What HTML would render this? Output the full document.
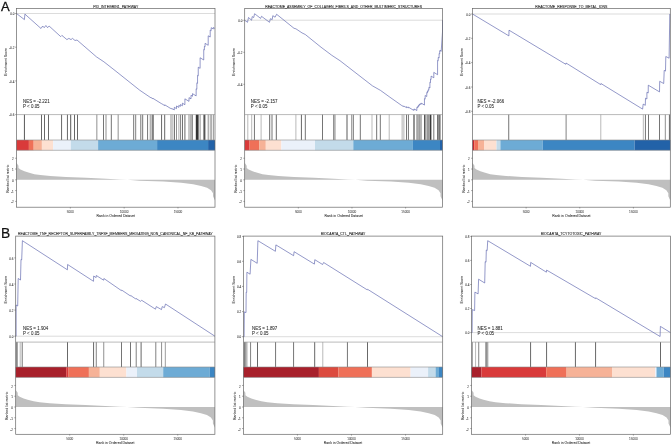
<!DOCTYPE html><html><head><meta charset="utf-8"><style>html,body{margin:0;padding:0;background:#fff;}svg{display:block;will-change:transform;} text{stroke:#333;stroke-width:0.06px;}</style></head><body>
<svg width="672" height="445" viewBox="0 0 672 445" font-family='"Liberation Sans", sans-serif'>
<rect width="672" height="445" fill="#fff"/>
<text x="115.75" y="7.5" font-size="3.52" text-anchor="middle" fill="#222" style="stroke:#222;stroke-width:0.07px">PID_INTEGRIN1_PATHWAY</text>
<rect x="16.5" y="140" width="12.4" height="10.3" fill="#d93a3a"/>
<rect x="28.9" y="140" width="4.8" height="10.3" fill="#ef7058"/>
<rect x="33.7" y="140" width="8.2" height="10.3" fill="#f6b297"/>
<rect x="41.9" y="140" width="11.2" height="10.3" fill="#fde0d1"/>
<rect x="53.1" y="140" width="17.7" height="10.3" fill="#ebf1fa"/>
<rect x="70.8" y="140" width="27.3" height="10.3" fill="#c3dbea"/>
<rect x="98.1" y="140" width="59" height="10.3" fill="#6dabd5"/>
<rect x="157.1" y="140" width="51" height="10.3" fill="#3c86c3"/>
<rect x="208.1" y="140" width="6.9" height="10.3" fill="#2262a8"/>
<rect x="23.92" y="114.6" width="0.95" height="25.4" fill="#515151"/>
<rect x="41.02" y="114.6" width="0.95" height="25.4" fill="#606060"/>
<rect x="44.02" y="114.6" width="0.95" height="25.4" fill="#606060"/>
<rect x="48.02" y="114.6" width="0.95" height="25.4" fill="#606060"/>
<rect x="61.12" y="114.6" width="0.95" height="25.4" fill="#606060"/>
<rect x="66.93" y="114.6" width="0.95" height="25.4" fill="#606060"/>
<rect x="70.23" y="114.6" width="0.95" height="25.4" fill="#515151"/>
<rect x="74.03" y="114.6" width="0.95" height="25.4" fill="#606060"/>
<rect x="77.03" y="114.6" width="0.95" height="25.4" fill="#606060"/>
<rect x="96.15" y="114.6" width="1.3" height="25.4" fill="#aaa"/>
<rect x="103.03" y="114.6" width="0.95" height="25.4" fill="#6e6e6e"/>
<rect x="105.53" y="114.6" width="0.95" height="25.4" fill="#8b8b8b"/>
<rect x="110.83" y="114.6" width="0.95" height="25.4" fill="#6e6e6e"/>
<rect x="117.55" y="114.6" width="1.3" height="25.4" fill="#aaa"/>
<rect x="133.22" y="114.6" width="0.95" height="25.4" fill="#6e6e6e"/>
<rect x="135.22" y="114.6" width="0.95" height="25.4" fill="#7c7c7c"/>
<rect x="140.33" y="114.6" width="0.95" height="25.4" fill="#6e6e6e"/>
<rect x="142.22" y="114.6" width="0.95" height="25.4" fill="#6e6e6e"/>
<rect x="147.12" y="114.6" width="0.95" height="25.4" fill="#6e6e6e"/>
<rect x="149.62" y="114.6" width="0.95" height="25.4" fill="#b6b6b6"/>
<rect x="152.43" y="114.6" width="0.95" height="25.4" fill="#6e6e6e"/>
<rect x="152.53" y="114.6" width="0.95" height="25.4" fill="#515151"/>
<rect x="150.53" y="114.6" width="0.95" height="25.4" fill="#8b8b8b"/>
<rect x="161.12" y="114.6" width="0.95" height="25.4" fill="#606060"/>
<rect x="164.22" y="114.6" width="0.95" height="25.4" fill="#606060"/>
<rect x="170" y="114.6" width="3" height="25.4" fill="#c8c8c8"/>
<rect x="173.83" y="114.6" width="0.95" height="25.4" fill="#515151"/>
<rect x="176.03" y="114.6" width="0.95" height="25.4" fill="#8b8b8b"/>
<rect x="178.33" y="114.6" width="0.95" height="25.4" fill="#b6b6b6"/>
<rect x="179.93" y="114.6" width="0.95" height="25.4" fill="#7c7c7c"/>
<rect x="181.93" y="114.6" width="0.95" height="25.4" fill="#606060"/>
<rect x="184.43" y="114.6" width="0.95" height="25.4" fill="#606060"/>
<rect x="188.53" y="114.6" width="0.95" height="25.4" fill="#8b8b8b"/>
<rect x="190.53" y="114.6" width="0.95" height="25.4" fill="#606060"/>
<rect x="192.03" y="114.6" width="0.95" height="25.4" fill="#8b8b8b"/>
<rect x="195.8" y="114.6" width="2.8" height="25.4" fill="#333"/>
<rect x="199.62" y="114.6" width="0.95" height="25.4" fill="#8b8b8b"/>
<rect x="203.4" y="114.6" width="2" height="25.4" fill="#555"/>
<rect x="207.72" y="114.6" width="0.95" height="25.4" fill="#8b8b8b"/>
<rect x="209.72" y="114.6" width="0.95" height="25.4" fill="#b6b6b6"/>
<rect x="210.72" y="114.6" width="0.95" height="25.4" fill="#8b8b8b"/>
<rect x="212.83" y="114.6" width="0.95" height="25.4" fill="#8b8b8b"/>
<line x1="16.5" y1="13.5" x2="215" y2="13.5" stroke="#c4c4c4" stroke-width="0.6"/>
<polyline points="16.5,13.5 24.4,19.6 24.9,14.1 41,28.5 42.7,26 44.2,27.7 45.9,25.5 47.6,27.7 49.1,26 60.7,36.6 61.9,35.4 66.9,39.6 68.9,38.4 71,39.6 72.5,38.4 75,40.5 77,40 96.5,56.9 103.9,61.8 115,70.5 139.7,90.2 150,97.2 150.11,97.24 151,97.8 151.01,97.6 152.9,98.78 152.91,98.37 153,98.43 153.01,98.41 161.6,103.74 161.61,103.67 164.7,105.59 164.71,104.8 170.38,108.32 170.38,108.24 171.12,108.7 171.13,108.46 171.88,108.93 171.88,108.69 172.62,109.15 172.63,108.91 174.3,109.95 174.31,107.29 176.5,108.65 176.51,105.98 178.8,107.41 178.81,105.38 180.4,106.37 180.41,104.54 182.4,105.78 182.41,103.16 184.9,104.71 184.91,98.83 189,101.37 189.01,97.63 191,98.87 191.01,95.33 192.5,96.26 192.51,93.65 196.15,95.91 196.16,88.82 196.85,89.25 196.86,82.84 197.55,83.27 197.56,75.41 198.25,75.85 198.26,67.19 200.1,68.33 200.11,57.75 203.73,60 203.74,49.43 204.4,49.84 204.41,46.38 205.07,46.79 205.08,43.33 208.2,45.27 208.21,35.8 210.2,37.04 210.21,30.03 211.2,30.65 211.21,27.68 213.3,28.98 213.31,27.48 214.8,28.4" fill="none" stroke="#525aa8" stroke-width="0.62" stroke-linejoin="round"/>
<path d="M0,0 L0,-2.6 L0,-2.1 L0,-1.9 L0,-1.58 L0.01,-1.32 L0.01,-1.1 L0.02,-0.95 L0.04,-0.79 L0.06,-0.67 L0.09,-0.52 L0.12,-0.43 L0.17,-0.35 L0.25,-0.26 L0.35,-0.18 L0.45,-0.09 L0.52,-0.02 L0.56,0 L0.62,0.09 L0.74,0.17 L0.83,0.28 L0.89,0.43 L0.93,0.59 L0.96,0.76 L0.98,1 L0.99,1.27 L0.99,1.55 L1,1.95 L1,2.3 L1,0 Z" transform="translate(16.5,179.7) scale(198.5,10.65)" fill="#bfbfbf"/>
<rect x="16.5" y="8.4" width="198.5" height="198.8" fill="none" stroke="#666" stroke-width="0.7"/>
<line x1="16.5" y1="114.6" x2="215" y2="114.6" stroke="#8a8a8a" stroke-width="0.6"/>
<line x1="16.5" y1="140" x2="215" y2="140" stroke="#8a8a8a" stroke-width="0.6"/>
<line x1="16.5" y1="150.3" x2="215" y2="150.3" stroke="#8a8a8a" stroke-width="0.6"/>
<line x1="15.1" y1="13.5" x2="16.5" y2="13.5" stroke="#555" stroke-width="0.5"/>
<text x="14.3" y="15.25" font-size="3.0" text-anchor="end" fill="#444">0.0</text>
<line x1="15.1" y1="47.2" x2="16.5" y2="47.2" stroke="#555" stroke-width="0.5"/>
<text x="14.3" y="48.95" font-size="3.0" text-anchor="end" fill="#444">-0.2</text>
<line x1="15.1" y1="80.9" x2="16.5" y2="80.9" stroke="#555" stroke-width="0.5"/>
<text x="14.3" y="82.65" font-size="3.0" text-anchor="end" fill="#444">-0.4</text>
<line x1="15.1" y1="114.6" x2="16.5" y2="114.6" stroke="#555" stroke-width="0.5"/>
<text x="14.3" y="116.35" font-size="3.0" text-anchor="end" fill="#444">-0.6</text>
<text transform="translate(6.6,62) rotate(-90)" font-size="3.5" text-anchor="middle" fill="#333">Enrichment Score</text>
<line x1="15.1" y1="158.24" x2="16.5" y2="158.24" stroke="#555" stroke-width="0.5"/>
<text x="13.7" y="160.34" font-size="3.0" text-anchor="end" fill="#444">2</text>
<line x1="15.1" y1="169.02" x2="16.5" y2="169.02" stroke="#555" stroke-width="0.5"/>
<text x="13.7" y="171.12" font-size="3.0" text-anchor="end" fill="#444">1</text>
<line x1="15.1" y1="179.8" x2="16.5" y2="179.8" stroke="#555" stroke-width="0.5"/>
<text x="13.7" y="181.9" font-size="3.0" text-anchor="end" fill="#444">0</text>
<line x1="15.1" y1="190.58" x2="16.5" y2="190.58" stroke="#555" stroke-width="0.5"/>
<text x="13.7" y="192.68" font-size="3.0" text-anchor="end" fill="#444">-1</text>
<line x1="15.1" y1="201.36" x2="16.5" y2="201.36" stroke="#555" stroke-width="0.5"/>
<text x="13.7" y="203.46" font-size="3.0" text-anchor="end" fill="#444">-2</text>
<text transform="translate(8.6,178.75) rotate(-90)" font-size="3.55" text-anchor="middle" fill="#333">Ranked list metric</text>
<line x1="70.32" y1="207.2" x2="70.32" y2="208.5" stroke="#555" stroke-width="0.5"/>
<text x="70.32" y="212.8" font-size="3.1" text-anchor="middle" fill="#555" style="stroke-width:0.04px">5000</text>
<line x1="124.15" y1="207.2" x2="124.15" y2="208.5" stroke="#555" stroke-width="0.5"/>
<text x="124.15" y="212.8" font-size="3.1" text-anchor="middle" fill="#555" style="stroke-width:0.04px">10000</text>
<line x1="177.97" y1="207.2" x2="177.97" y2="208.5" stroke="#555" stroke-width="0.5"/>
<text x="177.97" y="212.8" font-size="3.1" text-anchor="middle" fill="#555" style="stroke-width:0.04px">15000</text>
<text x="115.75" y="216.6" font-size="3.48" text-anchor="middle" fill="#333">Rank in Ordered Dataset</text>
<text x="23" y="102.7" font-size="4.45" fill="#1a1a1a" style="stroke-width:0.05px">NES = -2.221</text>
<text x="23" y="107.7" font-size="4.45" fill="#1a1a1a" style="stroke-width:0.05px">P &lt; 0.05</text>
<text x="343.6" y="7.5" font-size="3.52" text-anchor="middle" fill="#222" style="stroke:#222;stroke-width:0.07px">REACTOME_ASSEMBLY_OF_COLLAGEN_FIBRILS_AND_OTHER_MULTIMERIC_STRUCTURES</text>
<rect x="244.7" y="140" width="4.9" height="10.3" fill="#d93a3a"/>
<rect x="249.6" y="140" width="9.5" height="10.3" fill="#ef7058"/>
<rect x="259.1" y="140" width="6.7" height="10.3" fill="#f6b297"/>
<rect x="265.8" y="140" width="15.6" height="10.3" fill="#fde0d1"/>
<rect x="281.4" y="140" width="33.6" height="10.3" fill="#ebf1fa"/>
<rect x="315" y="140" width="38.3" height="10.3" fill="#c3dbea"/>
<rect x="353.3" y="140" width="59.6" height="10.3" fill="#6dabd5"/>
<rect x="412.9" y="140" width="27.1" height="10.3" fill="#3c86c3"/>
<rect x="440" y="140" width="2.5" height="10.3" fill="#2262a8"/>
<rect x="247.33" y="114.6" width="0.95" height="25.4" fill="#b6b6b6"/>
<rect x="251.22" y="114.6" width="0.95" height="25.4" fill="#b6b6b6"/>
<rect x="253.93" y="114.6" width="0.95" height="25.4" fill="#6e6e6e"/>
<rect x="260.62" y="114.6" width="0.95" height="25.4" fill="#b6b6b6"/>
<rect x="269.22" y="114.6" width="0.95" height="25.4" fill="#606060"/>
<rect x="271.52" y="114.6" width="0.95" height="25.4" fill="#6e6e6e"/>
<rect x="275.82" y="114.6" width="0.95" height="25.4" fill="#606060"/>
<rect x="295.42" y="114.6" width="0.95" height="25.4" fill="#b6b6b6"/>
<rect x="300.92" y="114.6" width="0.95" height="25.4" fill="#606060"/>
<rect x="304.82" y="114.6" width="0.95" height="25.4" fill="#6e6e6e"/>
<rect x="322.02" y="114.6" width="0.95" height="25.4" fill="#6e6e6e"/>
<rect x="333.32" y="114.6" width="0.95" height="25.4" fill="#606060"/>
<rect x="334.52" y="114.6" width="0.95" height="25.4" fill="#8b8b8b"/>
<rect x="346.4" y="114.6" width="1.2" height="25.4" fill="#777"/>
<rect x="351.22" y="114.6" width="0.95" height="25.4" fill="#8b8b8b"/>
<rect x="352.82" y="114.6" width="0.95" height="25.4" fill="#6e6e6e"/>
<rect x="359.82" y="114.6" width="0.95" height="25.4" fill="#6e6e6e"/>
<rect x="371.52" y="114.6" width="0.95" height="25.4" fill="#b6b6b6"/>
<rect x="376.25" y="114.6" width="0.9" height="25.4" fill="#666"/>
<rect x="379.82" y="114.6" width="0.95" height="25.4" fill="#6e6e6e"/>
<rect x="388.72" y="114.6" width="0.95" height="25.4" fill="#b6b6b6"/>
<rect x="401.4" y="114.6" width="3.2" height="25.4" fill="#cfcfcf"/>
<rect x="406.02" y="114.6" width="0.95" height="25.4" fill="#6e6e6e"/>
<rect x="407.92" y="114.6" width="0.95" height="25.4" fill="#6e6e6e"/>
<rect x="413.3" y="114.6" width="1.4" height="25.4" fill="#666"/>
<rect x="416.45" y="114.6" width="5.5" height="25.4" fill="#b5b5b5"/>
<rect x="416.52" y="114.6" width="0.95" height="25.4" fill="#999999"/>
<rect x="418.82" y="114.6" width="0.95" height="25.4" fill="#999999"/>
<rect x="424.1" y="114.6" width="1.4" height="25.4" fill="#444"/>
<rect x="426.4" y="114.6" width="2.8" height="25.4" fill="#999"/>
<rect x="429.6" y="114.6" width="1.8" height="25.4" fill="#3a3a3a"/>
<rect x="433.3" y="114.6" width="1" height="25.4" fill="#777"/>
<rect x="437.25" y="114.6" width="1.3" height="25.4" fill="#444"/>
<rect x="438.8" y="114.6" width="1.8" height="25.4" fill="#777"/>
<line x1="244.7" y1="20.2" x2="442.5" y2="20.2" stroke="#c4c4c4" stroke-width="0.6"/>
<polyline points="244.7,20.2 247.5,22.3 248.5,17.5 251.6,20.2 252.2,16.6 253.7,17.5 254.6,13.7 260.6,18.4 261.5,16.3 269.5,22.3 270.4,18.7 272.2,19.6 272.8,15.7 275.1,17.2 276.6,14.25 294,28.3 295.9,28.8 302,32.9 305.3,34.5 321,47.2 331.8,55.3 340,60.7 372.4,85.8 380.5,90.4 389.9,97.2 401.81,105.59 402.6,106.08 402.61,105.9 403.4,106.4 403.41,106.07 404.2,106.57 404.21,106.24 406.5,107.66 406.51,106.72 408.4,107.9 408.41,107.12 413.65,110.37 413.66,109.43 414.35,109.87 414.36,108.99 416.84,110.54 416.85,107.44 417,107.53 417.01,107.27 417.63,107.66 417.64,106.46 418.41,106.94 418.42,105.44 419.2,105.92 419.21,104.42 419.3,104.48 419.31,104.29 419.99,104.71 420,103.78 420.77,104.26 420.78,103.53 421.56,104.02 421.57,103.28 424.45,105.07 424.46,98.68 425.15,99.11 425.16,95.51 426.75,96.5 426.76,92.45 427.45,92.88 427.46,91.11 428.15,91.54 428.16,89.77 428.85,90.2 428.86,87.35 429.9,88 429.91,82.1 430.5,82.47 430.51,79.1 431.1,79.47 431.11,76.1 433.8,77.77 433.81,72.37 437.57,74.71 437.58,60.4 438.23,60.8 438.24,57.46 439.1,58.01 439.11,53.51 439.7,53.88 439.71,50.8 440.3,51.18 440.31,50.33 441.2,51.3 442.5,32 442.5,20.2" fill="none" stroke="#525aa8" stroke-width="0.62" stroke-linejoin="round"/>
<path d="M0,0 L0,-2.6 L0,-2.1 L0,-1.9 L0,-1.58 L0.01,-1.32 L0.01,-1.1 L0.02,-0.95 L0.04,-0.79 L0.06,-0.67 L0.09,-0.52 L0.12,-0.43 L0.17,-0.35 L0.25,-0.26 L0.35,-0.18 L0.45,-0.09 L0.52,-0.02 L0.56,0 L0.62,0.09 L0.74,0.17 L0.83,0.28 L0.89,0.43 L0.93,0.59 L0.96,0.76 L0.98,1 L0.99,1.27 L0.99,1.55 L1,1.95 L1,2.3 L1,0 Z" transform="translate(244.7,179.7) scale(197.8,10.65)" fill="#bfbfbf"/>
<rect x="244.7" y="8.4" width="197.8" height="198.8" fill="none" stroke="#666" stroke-width="0.7"/>
<line x1="244.7" y1="114.6" x2="442.5" y2="114.6" stroke="#8a8a8a" stroke-width="0.6"/>
<line x1="244.7" y1="140" x2="442.5" y2="140" stroke="#8a8a8a" stroke-width="0.6"/>
<line x1="244.7" y1="150.3" x2="442.5" y2="150.3" stroke="#8a8a8a" stroke-width="0.6"/>
<line x1="243.3" y1="20.3" x2="244.7" y2="20.3" stroke="#555" stroke-width="0.5"/>
<text x="242.5" y="22.05" font-size="3.0" text-anchor="end" fill="#444">0.0</text>
<line x1="243.3" y1="52.3" x2="244.7" y2="52.3" stroke="#555" stroke-width="0.5"/>
<text x="242.5" y="54.05" font-size="3.0" text-anchor="end" fill="#444">-0.2</text>
<line x1="243.3" y1="84.3" x2="244.7" y2="84.3" stroke="#555" stroke-width="0.5"/>
<text x="242.5" y="86.05" font-size="3.0" text-anchor="end" fill="#444">-0.4</text>
<text transform="translate(234.8,62) rotate(-90)" font-size="3.5" text-anchor="middle" fill="#333">Enrichment Score</text>
<line x1="243.3" y1="158.24" x2="244.7" y2="158.24" stroke="#555" stroke-width="0.5"/>
<text x="241.9" y="160.34" font-size="3.0" text-anchor="end" fill="#444">2</text>
<line x1="243.3" y1="169.02" x2="244.7" y2="169.02" stroke="#555" stroke-width="0.5"/>
<text x="241.9" y="171.12" font-size="3.0" text-anchor="end" fill="#444">1</text>
<line x1="243.3" y1="179.8" x2="244.7" y2="179.8" stroke="#555" stroke-width="0.5"/>
<text x="241.9" y="181.9" font-size="3.0" text-anchor="end" fill="#444">0</text>
<line x1="243.3" y1="190.58" x2="244.7" y2="190.58" stroke="#555" stroke-width="0.5"/>
<text x="241.9" y="192.68" font-size="3.0" text-anchor="end" fill="#444">-1</text>
<line x1="243.3" y1="201.36" x2="244.7" y2="201.36" stroke="#555" stroke-width="0.5"/>
<text x="241.9" y="203.46" font-size="3.0" text-anchor="end" fill="#444">-2</text>
<text transform="translate(236.8,178.75) rotate(-90)" font-size="3.55" text-anchor="middle" fill="#333">Ranked list metric</text>
<line x1="298.33" y1="207.2" x2="298.33" y2="208.5" stroke="#555" stroke-width="0.5"/>
<text x="298.33" y="212.8" font-size="3.1" text-anchor="middle" fill="#555" style="stroke-width:0.04px">5000</text>
<line x1="351.97" y1="207.2" x2="351.97" y2="208.5" stroke="#555" stroke-width="0.5"/>
<text x="351.97" y="212.8" font-size="3.1" text-anchor="middle" fill="#555" style="stroke-width:0.04px">10000</text>
<line x1="405.6" y1="207.2" x2="405.6" y2="208.5" stroke="#555" stroke-width="0.5"/>
<text x="405.6" y="212.8" font-size="3.1" text-anchor="middle" fill="#555" style="stroke-width:0.04px">15000</text>
<text x="343.6" y="216.6" font-size="3.48" text-anchor="middle" fill="#333">Rank in Ordered Dataset</text>
<text x="250.8" y="102.7" font-size="4.45" fill="#1a1a1a" style="stroke-width:0.05px">NES = -2.157</text>
<text x="250.8" y="107.7" font-size="4.45" fill="#1a1a1a" style="stroke-width:0.05px">P &lt; 0.05</text>
<text x="571.4" y="7.5" font-size="3.52" text-anchor="middle" fill="#222" style="stroke:#222;stroke-width:0.07px">REACTOME_RESPONSE_TO_METAL_IONS</text>
<rect x="472.5" y="140" width="1.7" height="10.3" fill="#c8272e"/>
<rect x="474.2" y="140" width="3.8" height="10.3" fill="#ef7058"/>
<rect x="478" y="140" width="6" height="10.3" fill="#f6b297"/>
<rect x="484" y="140" width="12.5" height="10.3" fill="#fde0d1"/>
<rect x="496.5" y="140" width="3.9" height="10.3" fill="#c3dbea"/>
<rect x="500.4" y="140" width="42.3" height="10.3" fill="#6dabd5"/>
<rect x="542.7" y="140" width="91.8" height="10.3" fill="#3c86c3"/>
<rect x="634.5" y="140" width="35.8" height="10.3" fill="#2262a8"/>
<rect x="508.27" y="114.6" width="0.95" height="25.4" fill="#6e6e6e"/>
<rect x="565.62" y="114.6" width="0.95" height="25.4" fill="#7c7c7c"/>
<rect x="600.32" y="114.6" width="0.95" height="25.4" fill="#b6b6b6"/>
<rect x="642.82" y="114.6" width="0.95" height="25.4" fill="#b6b6b6"/>
<rect x="644.92" y="114.6" width="0.95" height="25.4" fill="#6e6e6e"/>
<rect x="648.02" y="114.6" width="0.95" height="25.4" fill="#6e6e6e"/>
<rect x="659.02" y="114.6" width="0.95" height="25.4" fill="#6e6e6e"/>
<rect x="664.82" y="114.6" width="0.95" height="25.4" fill="#8b8b8b"/>
<rect x="668.92" y="114.6" width="0.95" height="25.4" fill="#606060"/>
<line x1="472.5" y1="14" x2="670.3" y2="14" stroke="#c4c4c4" stroke-width="0.6"/>
<polyline points="472.5,14 508.9,35.9 509,30.2 565.8,64.3 566,63 600.7,84.6 600.9,83.5 642.6,109.1 643.2,104.1 645.3,105.3 645.5,98.2 646.9,99 646.9,92.3 648.2,93 648.3,85.2 659.5,91.9 659.7,81.3 663.7,83.5 664,76 664.2,70.4 665.5,71.1 665.8,56.5 669.1,58.2 669.8,14" fill="none" stroke="#525aa8" stroke-width="0.62" stroke-linejoin="round"/>
<path d="M0,0 L0,-2.6 L0,-2.1 L0,-1.9 L0,-1.58 L0.01,-1.32 L0.01,-1.1 L0.02,-0.95 L0.04,-0.79 L0.06,-0.67 L0.09,-0.52 L0.12,-0.43 L0.17,-0.35 L0.25,-0.26 L0.35,-0.18 L0.45,-0.09 L0.52,-0.02 L0.56,0 L0.62,0.09 L0.74,0.17 L0.83,0.28 L0.89,0.43 L0.93,0.59 L0.96,0.76 L0.98,1 L0.99,1.27 L0.99,1.55 L1,1.95 L1,2.3 L1,0 Z" transform="translate(472.5,179.7) scale(197.8,10.65)" fill="#bfbfbf"/>
<rect x="472.5" y="8.4" width="197.8" height="198.8" fill="none" stroke="#666" stroke-width="0.7"/>
<line x1="472.5" y1="114.6" x2="670.3" y2="114.6" stroke="#8a8a8a" stroke-width="0.6"/>
<line x1="472.5" y1="140" x2="670.3" y2="140" stroke="#8a8a8a" stroke-width="0.6"/>
<line x1="472.5" y1="150.3" x2="670.3" y2="150.3" stroke="#8a8a8a" stroke-width="0.6"/>
<line x1="471.1" y1="14" x2="472.5" y2="14" stroke="#555" stroke-width="0.5"/>
<text x="470.3" y="15.75" font-size="3.0" text-anchor="end" fill="#444">0.0</text>
<line x1="471.1" y1="38.3" x2="472.5" y2="38.3" stroke="#555" stroke-width="0.5"/>
<text x="470.3" y="40.05" font-size="3.0" text-anchor="end" fill="#444">-0.2</text>
<line x1="471.1" y1="62.6" x2="472.5" y2="62.6" stroke="#555" stroke-width="0.5"/>
<text x="470.3" y="64.35" font-size="3.0" text-anchor="end" fill="#444">-0.4</text>
<line x1="471.1" y1="87" x2="472.5" y2="87" stroke="#555" stroke-width="0.5"/>
<text x="470.3" y="88.75" font-size="3.0" text-anchor="end" fill="#444">-0.6</text>
<line x1="471.1" y1="111.3" x2="472.5" y2="111.3" stroke="#555" stroke-width="0.5"/>
<text x="470.3" y="113.05" font-size="3.0" text-anchor="end" fill="#444">-0.8</text>
<text transform="translate(462.6,62) rotate(-90)" font-size="3.5" text-anchor="middle" fill="#333">Enrichment Score</text>
<line x1="471.1" y1="158.24" x2="472.5" y2="158.24" stroke="#555" stroke-width="0.5"/>
<text x="469.7" y="160.34" font-size="3.0" text-anchor="end" fill="#444">2</text>
<line x1="471.1" y1="169.02" x2="472.5" y2="169.02" stroke="#555" stroke-width="0.5"/>
<text x="469.7" y="171.12" font-size="3.0" text-anchor="end" fill="#444">1</text>
<line x1="471.1" y1="179.8" x2="472.5" y2="179.8" stroke="#555" stroke-width="0.5"/>
<text x="469.7" y="181.9" font-size="3.0" text-anchor="end" fill="#444">0</text>
<line x1="471.1" y1="190.58" x2="472.5" y2="190.58" stroke="#555" stroke-width="0.5"/>
<text x="469.7" y="192.68" font-size="3.0" text-anchor="end" fill="#444">-1</text>
<line x1="471.1" y1="201.36" x2="472.5" y2="201.36" stroke="#555" stroke-width="0.5"/>
<text x="469.7" y="203.46" font-size="3.0" text-anchor="end" fill="#444">-2</text>
<text transform="translate(464.6,178.75) rotate(-90)" font-size="3.55" text-anchor="middle" fill="#333">Ranked list metric</text>
<line x1="526.13" y1="207.2" x2="526.13" y2="208.5" stroke="#555" stroke-width="0.5"/>
<text x="526.13" y="212.8" font-size="3.1" text-anchor="middle" fill="#555" style="stroke-width:0.04px">5000</text>
<line x1="579.77" y1="207.2" x2="579.77" y2="208.5" stroke="#555" stroke-width="0.5"/>
<text x="579.77" y="212.8" font-size="3.1" text-anchor="middle" fill="#555" style="stroke-width:0.04px">10000</text>
<line x1="633.4" y1="207.2" x2="633.4" y2="208.5" stroke="#555" stroke-width="0.5"/>
<text x="633.4" y="212.8" font-size="3.1" text-anchor="middle" fill="#555" style="stroke-width:0.04px">15000</text>
<text x="571.4" y="216.6" font-size="3.48" text-anchor="middle" fill="#333">Rank in Ordered Dataset</text>
<text x="477.4" y="102.7" font-size="4.45" fill="#1a1a1a" style="stroke-width:0.05px">NES = -2.066</text>
<text x="477.4" y="107.7" font-size="4.45" fill="#1a1a1a" style="stroke-width:0.05px">P &lt; 0.05</text>
<text x="115.3" y="235.2" font-size="3.52" text-anchor="middle" fill="#222" style="stroke:#222;stroke-width:0.07px">REACTOME_TNF_RECEPTOR_SUPERFAMILY_TNFSF_MEMBERS_MEDIATING_NON_CANONICAL_NF_KB_PATHWAY</text>
<rect x="15.7" y="367" width="50.55" height="10.4" fill="#a8202b"/>
<rect x="66.25" y="367" width="2.35" height="10.4" fill="#d93a3a"/>
<rect x="68.6" y="367" width="20.3" height="10.4" fill="#ef7058"/>
<rect x="88.9" y="367" width="10.9" height="10.4" fill="#f6b297"/>
<rect x="99.8" y="367" width="26.6" height="10.4" fill="#fde0d1"/>
<rect x="126.4" y="367" width="10.6" height="10.4" fill="#ebf1fa"/>
<rect x="137" y="367" width="26.2" height="10.4" fill="#c3dbea"/>
<rect x="163.2" y="367" width="46.6" height="10.4" fill="#6dabd5"/>
<rect x="209.8" y="367" width="5.1" height="10.4" fill="#3c86c3"/>
<rect x="16.15" y="342.1" width="1.5" height="24.9" fill="#777"/>
<rect x="19.72" y="342.1" width="0.95" height="24.9" fill="#b6b6b6"/>
<rect x="21.72" y="342.1" width="0.95" height="24.9" fill="#6e6e6e"/>
<rect x="67.03" y="342.1" width="0.95" height="24.9" fill="#606060"/>
<rect x="93.12" y="342.1" width="0.95" height="24.9" fill="#606060"/>
<rect x="95.78" y="342.1" width="0.95" height="24.9" fill="#7c7c7c"/>
<rect x="103.28" y="342.1" width="0.95" height="24.9" fill="#8b8b8b"/>
<rect x="121.03" y="342.1" width="0.95" height="24.9" fill="#6e6e6e"/>
<rect x="130.03" y="342.1" width="0.95" height="24.9" fill="#6e6e6e"/>
<rect x="135.72" y="342.1" width="0.95" height="24.9" fill="#7c7c7c"/>
<rect x="140.62" y="342.1" width="0.95" height="24.9" fill="#606060"/>
<rect x="155.33" y="342.1" width="0.95" height="24.9" fill="#7c7c7c"/>
<rect x="161.12" y="342.1" width="0.95" height="24.9" fill="#8b8b8b"/>
<rect x="164.83" y="342.1" width="0.95" height="24.9" fill="#999999"/>
<line x1="15.7" y1="336.2" x2="214.9" y2="336.2" stroke="#c4c4c4" stroke-width="0.6"/>
<polyline points="15.7,336.2 16.1,336.2 16.1,305 17.7,306 18.2,278.5 20.5,280 21,259.4 21.7,259.8 22.4,240.7 67.4,269.8 67.6,264.5 93.5,281.3 93.7,276 96.1,277.6 96.3,275.5 103.6,280.2 103.9,278.5 121.4,290.6 121.6,290 130.5,296 130.7,295.5 135.8,299 136,298.5 140.6,301.3 141.7,300.3 155.5,309.2 156.25,306.6 161.5,309.6 162.2,306.6 164.4,307.6 165.5,304 214.9,336.2" fill="none" stroke="#525aa8" stroke-width="0.62" stroke-linejoin="round"/>
<path d="M0,0 L0,-2.6 L0,-2.1 L0,-1.9 L0,-1.58 L0.01,-1.32 L0.01,-1.1 L0.02,-0.95 L0.04,-0.79 L0.06,-0.67 L0.09,-0.52 L0.12,-0.43 L0.17,-0.35 L0.25,-0.26 L0.35,-0.18 L0.45,-0.09 L0.52,-0.02 L0.56,0 L0.62,0.09 L0.74,0.17 L0.83,0.28 L0.89,0.43 L0.93,0.59 L0.96,0.76 L0.98,1 L0.99,1.27 L0.99,1.55 L1,1.95 L1,2.3 L1,0 Z" transform="translate(15.7,406.9) scale(199.2,10.65)" fill="#bfbfbf"/>
<rect x="15.7" y="236.1" width="199.2" height="198.2" fill="none" stroke="#666" stroke-width="0.7"/>
<line x1="15.7" y1="342.1" x2="214.9" y2="342.1" stroke="#8a8a8a" stroke-width="0.6"/>
<line x1="15.7" y1="367" x2="214.9" y2="367" stroke="#8a8a8a" stroke-width="0.6"/>
<line x1="15.7" y1="377.4" x2="214.9" y2="377.4" stroke="#8a8a8a" stroke-width="0.6"/>
<line x1="14.3" y1="257.9" x2="15.7" y2="257.9" stroke="#555" stroke-width="0.5"/>
<text x="13.5" y="259.65" font-size="3.0" text-anchor="end" fill="#444">0.6</text>
<line x1="14.3" y1="284" x2="15.7" y2="284" stroke="#555" stroke-width="0.5"/>
<text x="13.5" y="285.75" font-size="3.0" text-anchor="end" fill="#444">0.4</text>
<line x1="14.3" y1="310.1" x2="15.7" y2="310.1" stroke="#555" stroke-width="0.5"/>
<text x="13.5" y="311.85" font-size="3.0" text-anchor="end" fill="#444">0.2</text>
<line x1="14.3" y1="336.2" x2="15.7" y2="336.2" stroke="#555" stroke-width="0.5"/>
<text x="13.5" y="337.95" font-size="3.0" text-anchor="end" fill="#444">0.0</text>
<text transform="translate(6.8,289.6) rotate(-90)" font-size="3.5" text-anchor="middle" fill="#333">Enrichment Score</text>
<line x1="14.3" y1="385.44" x2="15.7" y2="385.44" stroke="#555" stroke-width="0.5"/>
<text x="12.9" y="387.54" font-size="3.0" text-anchor="end" fill="#444">2</text>
<line x1="14.3" y1="396.22" x2="15.7" y2="396.22" stroke="#555" stroke-width="0.5"/>
<text x="12.9" y="398.32" font-size="3.0" text-anchor="end" fill="#444">1</text>
<line x1="14.3" y1="407" x2="15.7" y2="407" stroke="#555" stroke-width="0.5"/>
<text x="12.9" y="409.1" font-size="3.0" text-anchor="end" fill="#444">0</text>
<line x1="14.3" y1="417.78" x2="15.7" y2="417.78" stroke="#555" stroke-width="0.5"/>
<text x="12.9" y="419.88" font-size="3.0" text-anchor="end" fill="#444">-1</text>
<line x1="14.3" y1="428.56" x2="15.7" y2="428.56" stroke="#555" stroke-width="0.5"/>
<text x="12.9" y="430.66" font-size="3.0" text-anchor="end" fill="#444">-2</text>
<text transform="translate(7.8,405.85) rotate(-90)" font-size="3.55" text-anchor="middle" fill="#333">Ranked list metric</text>
<line x1="69.71" y1="434.3" x2="69.71" y2="435.6" stroke="#555" stroke-width="0.5"/>
<text x="69.71" y="439.9" font-size="3.1" text-anchor="middle" fill="#555" style="stroke-width:0.04px">5000</text>
<line x1="123.73" y1="434.3" x2="123.73" y2="435.6" stroke="#555" stroke-width="0.5"/>
<text x="123.73" y="439.9" font-size="3.1" text-anchor="middle" fill="#555" style="stroke-width:0.04px">10000</text>
<line x1="177.74" y1="434.3" x2="177.74" y2="435.6" stroke="#555" stroke-width="0.5"/>
<text x="177.74" y="439.9" font-size="3.1" text-anchor="middle" fill="#555" style="stroke-width:0.04px">15000</text>
<text x="115.3" y="443.7" font-size="3.48" text-anchor="middle" fill="#333">Rank in Ordered Dataset</text>
<text x="23" y="330" font-size="4.45" fill="#1a1a1a" style="stroke-width:0.05px">NES = 1.904</text>
<text x="23" y="335" font-size="4.45" fill="#1a1a1a" style="stroke-width:0.05px">P &lt; 0.05</text>
<text x="343.05" y="235.2" font-size="3.52" text-anchor="middle" fill="#222" style="stroke:#222;stroke-width:0.07px">BIOCARTA_CTL_PATHWAY</text>
<rect x="243.4" y="367" width="75.5" height="10.4" fill="#a8202b"/>
<rect x="318.9" y="367" width="19.5" height="10.4" fill="#dc4a3e"/>
<rect x="338.4" y="367" width="33.5" height="10.4" fill="#ef7058"/>
<rect x="371.9" y="367" width="38.7" height="10.4" fill="#fde0d1"/>
<rect x="410.6" y="367" width="17.5" height="10.4" fill="#ebf1fa"/>
<rect x="428.1" y="367" width="7.5" height="10.4" fill="#c3dbea"/>
<rect x="435.6" y="367" width="3.4" height="10.4" fill="#6dabd5"/>
<rect x="439" y="367" width="3.7" height="10.4" fill="#3c86c3"/>
<rect x="244" y="342.1" width="1" height="24.9" fill="#808080"/>
<rect x="245" y="342.1" width="1.8" height="24.9" fill="#9e9e9e"/>
<rect x="246.7" y="342.1" width="1" height="24.9" fill="#c8c8c8"/>
<rect x="250.12" y="342.1" width="0.95" height="24.9" fill="#7c7c7c"/>
<rect x="257.02" y="342.1" width="0.95" height="24.9" fill="#606060"/>
<rect x="275.12" y="342.1" width="0.95" height="24.9" fill="#6e6e6e"/>
<rect x="293.12" y="342.1" width="0.95" height="24.9" fill="#6e6e6e"/>
<rect x="314.22" y="342.1" width="0.95" height="24.9" fill="#606060"/>
<rect x="322.32" y="342.1" width="0.95" height="24.9" fill="#b6b6b6"/>
<rect x="346.92" y="342.1" width="0.95" height="24.9" fill="#6e6e6e"/>
<rect x="367.02" y="342.1" width="0.95" height="24.9" fill="#606060"/>
<line x1="243.4" y1="336.7" x2="442.7" y2="336.7" stroke="#c4c4c4" stroke-width="0.6"/>
<polyline points="243.4,336.7 244.1,336.7 244.3,311.9 246,312.6 246.2,292.1 246.7,292.4 246.9,272.2 250.1,274.2 250.9,259.4 257.2,263.3 257.9,240.7 275.4,251.3 275.9,244.9 293.6,255.7 294.1,251.7 314.4,264.1 314.8,259.7 322.6,264.5 323.6,262.5 367.3,289.9 367.6,289.3 442.7,336.7" fill="none" stroke="#525aa8" stroke-width="0.62" stroke-linejoin="round"/>
<path d="M0,0 L0,-2.6 L0,-2.1 L0,-1.9 L0,-1.58 L0.01,-1.32 L0.01,-1.1 L0.02,-0.95 L0.04,-0.79 L0.06,-0.67 L0.09,-0.52 L0.12,-0.43 L0.17,-0.35 L0.25,-0.26 L0.35,-0.18 L0.45,-0.09 L0.52,-0.02 L0.56,0 L0.62,0.09 L0.74,0.17 L0.83,0.28 L0.89,0.43 L0.93,0.59 L0.96,0.76 L0.98,1 L0.99,1.27 L0.99,1.55 L1,1.95 L1,2.3 L1,0 Z" transform="translate(243.4,406.9) scale(199.3,10.65)" fill="#bfbfbf"/>
<rect x="243.4" y="236.1" width="199.3" height="198.2" fill="none" stroke="#666" stroke-width="0.7"/>
<line x1="243.4" y1="342.1" x2="442.7" y2="342.1" stroke="#8a8a8a" stroke-width="0.6"/>
<line x1="243.4" y1="367" x2="442.7" y2="367" stroke="#8a8a8a" stroke-width="0.6"/>
<line x1="243.4" y1="377.4" x2="442.7" y2="377.4" stroke="#8a8a8a" stroke-width="0.6"/>
<line x1="242" y1="236.4" x2="243.4" y2="236.4" stroke="#555" stroke-width="0.5"/>
<text x="241.2" y="238.15" font-size="3.0" text-anchor="end" fill="#444">0.8</text>
<line x1="242" y1="261.3" x2="243.4" y2="261.3" stroke="#555" stroke-width="0.5"/>
<text x="241.2" y="263.05" font-size="3.0" text-anchor="end" fill="#444">0.6</text>
<line x1="242" y1="286.4" x2="243.4" y2="286.4" stroke="#555" stroke-width="0.5"/>
<text x="241.2" y="288.15" font-size="3.0" text-anchor="end" fill="#444">0.4</text>
<line x1="242" y1="311.6" x2="243.4" y2="311.6" stroke="#555" stroke-width="0.5"/>
<text x="241.2" y="313.35" font-size="3.0" text-anchor="end" fill="#444">0.2</text>
<line x1="242" y1="336.7" x2="243.4" y2="336.7" stroke="#555" stroke-width="0.5"/>
<text x="241.2" y="338.45" font-size="3.0" text-anchor="end" fill="#444">0.0</text>
<text transform="translate(234.5,289.6) rotate(-90)" font-size="3.5" text-anchor="middle" fill="#333">Enrichment Score</text>
<line x1="242" y1="385.44" x2="243.4" y2="385.44" stroke="#555" stroke-width="0.5"/>
<text x="240.6" y="387.54" font-size="3.0" text-anchor="end" fill="#444">2</text>
<line x1="242" y1="396.22" x2="243.4" y2="396.22" stroke="#555" stroke-width="0.5"/>
<text x="240.6" y="398.32" font-size="3.0" text-anchor="end" fill="#444">1</text>
<line x1="242" y1="407" x2="243.4" y2="407" stroke="#555" stroke-width="0.5"/>
<text x="240.6" y="409.1" font-size="3.0" text-anchor="end" fill="#444">0</text>
<line x1="242" y1="417.78" x2="243.4" y2="417.78" stroke="#555" stroke-width="0.5"/>
<text x="240.6" y="419.88" font-size="3.0" text-anchor="end" fill="#444">-1</text>
<line x1="242" y1="428.56" x2="243.4" y2="428.56" stroke="#555" stroke-width="0.5"/>
<text x="240.6" y="430.66" font-size="3.0" text-anchor="end" fill="#444">-2</text>
<text transform="translate(235.5,405.85) rotate(-90)" font-size="3.55" text-anchor="middle" fill="#333">Ranked list metric</text>
<line x1="297.44" y1="434.3" x2="297.44" y2="435.6" stroke="#555" stroke-width="0.5"/>
<text x="297.44" y="439.9" font-size="3.1" text-anchor="middle" fill="#555" style="stroke-width:0.04px">5000</text>
<line x1="351.48" y1="434.3" x2="351.48" y2="435.6" stroke="#555" stroke-width="0.5"/>
<text x="351.48" y="439.9" font-size="3.1" text-anchor="middle" fill="#555" style="stroke-width:0.04px">10000</text>
<line x1="405.52" y1="434.3" x2="405.52" y2="435.6" stroke="#555" stroke-width="0.5"/>
<text x="405.52" y="439.9" font-size="3.1" text-anchor="middle" fill="#555" style="stroke-width:0.04px">15000</text>
<text x="343.05" y="443.7" font-size="3.48" text-anchor="middle" fill="#333">Rank in Ordered Dataset</text>
<text x="252" y="330" font-size="4.45" fill="#1a1a1a" style="stroke-width:0.05px">NES = 1.897</text>
<text x="252" y="335" font-size="4.45" fill="#1a1a1a" style="stroke-width:0.05px">P &lt; 0.05</text>
<text x="571.05" y="235.2" font-size="3.52" text-anchor="middle" fill="#222" style="stroke:#222;stroke-width:0.07px">BIOCARTA_TCYTOTOXIC_PATHWAY</text>
<rect x="471.6" y="367" width="9.8" height="10.4" fill="#a8202b"/>
<rect x="481.4" y="367" width="64.85" height="10.4" fill="#d93a3a"/>
<rect x="546.25" y="367" width="20.35" height="10.4" fill="#ef7058"/>
<rect x="566.6" y="367" width="45.4" height="10.4" fill="#f6b297"/>
<rect x="612" y="367" width="43.2" height="10.4" fill="#fde0d1"/>
<rect x="655.2" y="367" width="1.3" height="10.4" fill="#ebf1fa"/>
<rect x="656.5" y="367" width="7.2" height="10.4" fill="#6dabd5"/>
<rect x="663.7" y="367" width="6.8" height="10.4" fill="#3c86c3"/>
<rect x="471.92" y="342.1" width="0.95" height="24.9" fill="#999999"/>
<rect x="475.12" y="342.1" width="0.95" height="24.9" fill="#b6b6b6"/>
<rect x="478.27" y="342.1" width="0.95" height="24.9" fill="#7c7c7c"/>
<rect x="485.55" y="342.1" width="1.1" height="24.9" fill="#444"/>
<rect x="486.65" y="342.1" width="1.7" height="24.9" fill="#a8a8a8"/>
<rect x="530.12" y="342.1" width="0.95" height="24.9" fill="#606060"/>
<rect x="546.12" y="342.1" width="0.95" height="24.9" fill="#606060"/>
<rect x="574.92" y="342.1" width="0.95" height="24.9" fill="#606060"/>
<rect x="595.12" y="342.1" width="0.95" height="24.9" fill="#606060"/>
<rect x="660.02" y="342.1" width="0.95" height="24.9" fill="#606060"/>
<line x1="471.6" y1="332.6" x2="670.5" y2="332.6" stroke="#c4c4c4" stroke-width="0.6"/>
<polyline points="471.6,332.6 472.1,332.6 472.3,309.6 474.6,310.6 474.9,292.1 478.1,293.9 478.6,279.2 484.7,283 485.2,261.7 486,262.2 486.3,250 487.2,250.5 487.7,240.7 530.5,266.3 530.7,262.4 546.4,272.2 546.6,270.1 595.5,298.6 595.7,297.8 660.1,336.5 660.4,326.4 670.5,332.6" fill="none" stroke="#525aa8" stroke-width="0.62" stroke-linejoin="round"/>
<path d="M0,0 L0,-2.6 L0,-2.1 L0,-1.9 L0,-1.58 L0.01,-1.32 L0.01,-1.1 L0.02,-0.95 L0.04,-0.79 L0.06,-0.67 L0.09,-0.52 L0.12,-0.43 L0.17,-0.35 L0.25,-0.26 L0.35,-0.18 L0.45,-0.09 L0.52,-0.02 L0.56,0 L0.62,0.09 L0.74,0.17 L0.83,0.28 L0.89,0.43 L0.93,0.59 L0.96,0.76 L0.98,1 L0.99,1.27 L0.99,1.55 L1,1.95 L1,2.3 L1,0 Z" transform="translate(471.6,406.9) scale(198.9,10.65)" fill="#bfbfbf"/>
<rect x="471.6" y="236.1" width="198.9" height="198.2" fill="none" stroke="#666" stroke-width="0.7"/>
<line x1="471.6" y1="342.1" x2="670.5" y2="342.1" stroke="#8a8a8a" stroke-width="0.6"/>
<line x1="471.6" y1="367" x2="670.5" y2="367" stroke="#8a8a8a" stroke-width="0.6"/>
<line x1="471.6" y1="377.4" x2="670.5" y2="377.4" stroke="#8a8a8a" stroke-width="0.6"/>
<line x1="470.2" y1="236.4" x2="471.6" y2="236.4" stroke="#555" stroke-width="0.5"/>
<text x="469.4" y="238.15" font-size="3.0" text-anchor="end" fill="#444">0.8</text>
<line x1="470.2" y1="260.4" x2="471.6" y2="260.4" stroke="#555" stroke-width="0.5"/>
<text x="469.4" y="262.15" font-size="3.0" text-anchor="end" fill="#444">0.6</text>
<line x1="470.2" y1="284.5" x2="471.6" y2="284.5" stroke="#555" stroke-width="0.5"/>
<text x="469.4" y="286.25" font-size="3.0" text-anchor="end" fill="#444">0.4</text>
<line x1="470.2" y1="308.5" x2="471.6" y2="308.5" stroke="#555" stroke-width="0.5"/>
<text x="469.4" y="310.25" font-size="3.0" text-anchor="end" fill="#444">0.2</text>
<line x1="470.2" y1="332.6" x2="471.6" y2="332.6" stroke="#555" stroke-width="0.5"/>
<text x="469.4" y="334.35" font-size="3.0" text-anchor="end" fill="#444">0.0</text>
<text transform="translate(462.7,289.6) rotate(-90)" font-size="3.5" text-anchor="middle" fill="#333">Enrichment Score</text>
<line x1="470.2" y1="385.44" x2="471.6" y2="385.44" stroke="#555" stroke-width="0.5"/>
<text x="468.8" y="387.54" font-size="3.0" text-anchor="end" fill="#444">2</text>
<line x1="470.2" y1="396.22" x2="471.6" y2="396.22" stroke="#555" stroke-width="0.5"/>
<text x="468.8" y="398.32" font-size="3.0" text-anchor="end" fill="#444">1</text>
<line x1="470.2" y1="407" x2="471.6" y2="407" stroke="#555" stroke-width="0.5"/>
<text x="468.8" y="409.1" font-size="3.0" text-anchor="end" fill="#444">0</text>
<line x1="470.2" y1="417.78" x2="471.6" y2="417.78" stroke="#555" stroke-width="0.5"/>
<text x="468.8" y="419.88" font-size="3.0" text-anchor="end" fill="#444">-1</text>
<line x1="470.2" y1="428.56" x2="471.6" y2="428.56" stroke="#555" stroke-width="0.5"/>
<text x="468.8" y="430.66" font-size="3.0" text-anchor="end" fill="#444">-2</text>
<text transform="translate(463.7,405.85) rotate(-90)" font-size="3.55" text-anchor="middle" fill="#333">Ranked list metric</text>
<line x1="525.53" y1="434.3" x2="525.53" y2="435.6" stroke="#555" stroke-width="0.5"/>
<text x="525.53" y="439.9" font-size="3.1" text-anchor="middle" fill="#555" style="stroke-width:0.04px">5000</text>
<line x1="579.46" y1="434.3" x2="579.46" y2="435.6" stroke="#555" stroke-width="0.5"/>
<text x="579.46" y="439.9" font-size="3.1" text-anchor="middle" fill="#555" style="stroke-width:0.04px">10000</text>
<line x1="633.4" y1="434.3" x2="633.4" y2="435.6" stroke="#555" stroke-width="0.5"/>
<text x="633.4" y="439.9" font-size="3.1" text-anchor="middle" fill="#555" style="stroke-width:0.04px">15000</text>
<text x="571.05" y="443.7" font-size="3.48" text-anchor="middle" fill="#333">Rank in Ordered Dataset</text>
<text x="477.5" y="330" font-size="4.45" fill="#1a1a1a" style="stroke-width:0.05px">NES = 1.881</text>
<text x="477.5" y="335" font-size="4.45" fill="#1a1a1a" style="stroke-width:0.05px">P &lt; 0.05</text>
<text x="0.9" y="10.6" font-size="13" fill="#111" style="stroke:#111;stroke-width:0.3px">A</text>
<text x="1.0" y="237.6" font-size="13.8" fill="#111" style="stroke:#111;stroke-width:0.2px">B</text>
</svg></body></html>
